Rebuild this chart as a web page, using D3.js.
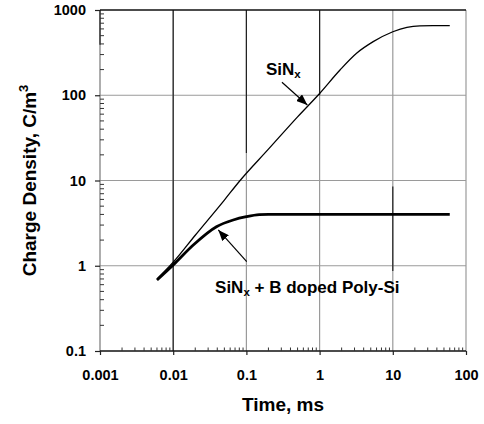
<!DOCTYPE html>
<html><head><meta charset="utf-8">
<script src="https://cdn.jsdelivr.net/npm/d3@7"></script>
<style>
html,body{margin:0;padding:0;background:#fff;}
text{font-family:"Liberation Sans",Arial,Helvetica,sans-serif;font-weight:bold;fill:#000;}
</style></head>
<body><svg id="chart" width="484" height="424"></svg>
<script>
// ---- data ----
const xTicks = [0.001, 0.01, 0.1, 1, 10, 100];
const xTickLabels = ["0.001", "0.01", "0.1", "1", "10", "100"];
const yTicks = [0.1, 1, 10, 100, 1000];
const yTickLabels = ["0.1", "1", "10", "100", "1000"];

const sinxTime   = [0.006, 0.01, 0.02, 0.05, 0.082, 0.2, 0.5, 1, 1.9, 3.2, 5.4, 10, 15.6, 23.5, 35, 60];
const sinxValue  = [0.70, 1.1, 2.28, 5.9, 10, 23.3, 55.8, 105, 198, 311, 425, 556, 627, 652, 655, 655];

const polyTime   = [0.006, 0.01, 0.0188, 0.039, 0.066, 0.1, 0.15, 0.2, 0.5, 1, 10, 60];
const polyValue  = [0.68, 1.02, 1.75, 2.87, 3.44, 3.76, 3.97, 4.0, 4.0, 4.0, 4.0, 4.0];

const labelNames   = ["SiN", "SiN"];
const labelSubs    = ["x", "x"];
const labelRests   = ["", " + B doped Poly-Si"];
const labelTime    = [0.185, 0.0373];
const labelValue   = [173, 0.483];
const arrowFromT   = [0.306, 0.101];
const arrowFromV   = [142, 1.115];
const arrowToT     = [0.68, 0.0413];
const arrowToV     = [76.9, 2.63];

// darker overdrawn stretches of the grid seen in the original figure
const darkGridT    = [0.001, 0.01, 0.1, 1, 10];
const darkGridFrom = [390, 0.1, 21, 100, 0.87];
const darkGridTo   = [1000, 1000, 1000, 1000, 8.5];

// ---- layout ----
const svg = d3.select("#chart");
const x = d3.scaleLog().domain([0.001, 100]).range([100, 466]);
const y = d3.scaleLog().domain([0.1, 1000]).range([351, 10]);
const [x0, x1] = x.range();
const [y0, y1] = y.range();
const grid = "#9a9a9a";

// gridlines
svg.append("g").selectAll("line").data(xTicks.slice(1)).join("line")
  .attr("x1", d => x(d)).attr("x2", d => x(d)).attr("y1", y0).attr("y2", y1)
  .attr("stroke", grid).attr("stroke-width", 1.2);
svg.append("g").selectAll("line").data(yTicks.slice(1, -1)).join("line")
  .attr("x1", x0).attr("x2", x1).attr("y1", d => y(d)).attr("y2", d => y(d))
  .attr("stroke", grid).attr("stroke-width", 1.2);
// left axis (gray)
svg.append("line").attr("x1", x0).attr("x2", x0).attr("y1", y0).attr("y2", y1)
  .attr("stroke", "#777").attr("stroke-width", 1.2);
// dark stretches
svg.append("g").selectAll("line").data(darkGridT).join("line")
  .attr("x1", d => x(d)).attr("x2", d => x(d))
  .attr("y1", (d, i) => y(darkGridFrom[i])).attr("y2", (d, i) => y(darkGridTo[i]))
  .attr("stroke", "#222").attr("stroke-width", 1.2);
// top border and bottom axis
svg.append("line").attr("x1", x0).attr("x2", x1).attr("y1", y1).attr("y2", y1)
  .attr("stroke", "#111").attr("stroke-width", 1.3);
svg.append("line").attr("x1", x0).attr("x2", x1).attr("y1", y0).attr("y2", y0)
  .attr("stroke", "#111").attr("stroke-width", 1.3);

// minor ticks
const minorX = [], minorY = [];
for (let i = 0; i < xTicks.length - 1; i++) for (let k = 2; k <= 9; k++) minorX.push(xTicks[i] * k);
for (let i = 0; i < yTicks.length - 1; i++) for (let k = 2; k <= 9; k++) minorY.push(yTicks[i] * k);
svg.append("g").selectAll("line").data(minorX).join("line")
  .attr("x1", d => x(d)).attr("x2", d => x(d)).attr("y1", y0).attr("y2", y0 - 3.5)
  .attr("stroke", "#333").attr("stroke-width", 1);
svg.append("g").selectAll("line").data(minorY).join("line")
  .attr("x1", x0).attr("x2", x0 + 4).attr("y1", d => y(d)).attr("y2", d => y(d))
  .attr("stroke", "#333").attr("stroke-width", 1);

// axes (major ticks + labels)
const xAxis = svg.append("g").attr("transform", `translate(0,${y0})`)
  .call(d3.axisBottom(x).tickValues(xTicks).tickSize(4).tickPadding(15)
    .tickFormat((d, i) => xTickLabels[i]));
const yAxis = svg.append("g").attr("transform", `translate(${x0},0)`)
  .call(d3.axisLeft(y).tickValues(yTicks).tickSize(5).tickPadding(9)
    .tickFormat((d, i) => yTickLabels[i]));
[xAxis, yAxis].forEach(a => {
  a.select(".domain").remove();
  a.selectAll(".tick line").attr("stroke", "#222").attr("stroke-width", 1.2);
  a.selectAll("text").style("font-size", "14.5px").style("font-family", "'Liberation Sans',Arial,sans-serif")
    .style("font-weight", "bold").attr("fill", "#000");
});

// curves
const line = d3.line().x(d => x(d[0])).y(d => y(d[1])).curve(d3.curveMonotoneX);
svg.append("path").datum(d3.zip(sinxTime, sinxValue)).attr("d", line)
  .attr("fill", "none").attr("stroke", "#000").attr("stroke-width", 1.3);
svg.append("path").datum(d3.zip(polyTime, polyValue)).attr("d", line)
  .attr("fill", "none").attr("stroke", "#000").attr("stroke-width", 2.8);

// arrows
svg.append("defs").append("marker").attr("id", "ah")
  .attr("viewBox", "0 0 10 8").attr("refX", 10).attr("refY", 4)
  .attr("markerWidth", 11).attr("markerHeight", 9).attr("markerUnits", "userSpaceOnUse")
  .attr("orient", "auto")
  .append("path").attr("d", "M0,0 L10,4 L0,8 Z").attr("fill", "#000");
svg.append("g").selectAll("line").data(arrowFromT).join("line")
  .attr("x1", (d, i) => x(arrowFromT[i])).attr("y1", (d, i) => y(arrowFromV[i]))
  .attr("x2", (d, i) => x(arrowToT[i])).attr("y2", (d, i) => y(arrowToV[i]))
  .attr("stroke", "#000").attr("stroke-width", 1.2).attr("marker-end", "url(#ah)");

// labels
labelNames.forEach((n, i) => {
  const t = svg.append("text").attr("x", x(labelTime[i])).attr("y", y(labelValue[i]))
    .style("font-size", "17px");
  t.append("tspan").text(n);
  t.append("tspan").text(labelSubs[i]).style("font-size", "11.5px").attr("dy", 3);
  if (labelRests[i]) t.append("tspan").text(labelRests[i]).attr("dy", -3);
});

// axis titles
svg.append("text").attr("x", (x0 + x1) / 2).attr("y", 410.5).attr("text-anchor", "middle")
  .style("font-size", "19px").text("Time, ms");
const yt = svg.append("text").attr("transform", `translate(36,${(y0 + y1) / 2}) rotate(-90)`)
  .attr("text-anchor", "middle").style("font-size", "19px");
yt.append("tspan").text("Charge Density, C/m");
yt.append("tspan").text("3").style("font-size", "13px").attr("dy", -8);
</script></body></html>
